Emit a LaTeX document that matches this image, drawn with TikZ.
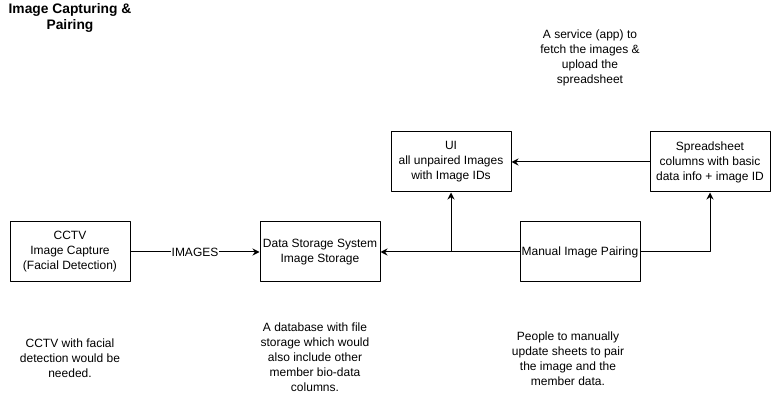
\documentclass[tikz,border=0pt]{standalone}
\usepackage{fontspec}
\setmainfont{Liberation Sans}
\usetikzlibrary{arrows.meta}
\begin{document}
\begin{tikzpicture}[x=1pt,y=-1pt,line join=round,
		font=\fontsize{12}{15}\selectfont,
		>={Stealth[length=7pt,width=7pt]},
		block/.style={draw,line width=1pt,minimum width=120pt,minimum height=60pt,align=center,inner sep=1pt},
		note/.style={align=center,inner sep=0pt},
		link/.style={->,line width=1pt}]
	\useasboundingbox (0,0) rectangle (771,403);
	% Tiêu đề
	\node[note,font=\fontsize{13.8}{16.5}\selectfont\bfseries] (title) at (70,18) {Image Capturing \&\\Pairing};
	% Các khối
	\node[block] (cctv) at (70,252) {CCTV\\Image Capture\\(Facial Detection)};
	\node[block] (storage) at (320,252) {Data Storage System\\Image Storage};
	\node[block] (ui) at (451,162) {UI\\all unpaired Images\\with Image IDs};
	\node[block] (sheet) at (710,162) {Spreadsheet\\columns with basic\\data info + image ID};
	\node[block] (pairing) at (580,252) {Manual Image Pairing};
	% Ghi chú
	\node[note] (cctvnote) at (70,358) {CCTV with facial\\detection would be\\needed.};
	\node[note] (storagenote) at (315,357) {A database with file\\storage which would\\also include other\\member bio-data\\columns.};
	\node[note] (pairingnote) at (568,359) {People to manually\\update sheets to pair\\the image and the\\member data.};
	\node[note] (sheetnote) at (590,58) {A service (app) to\\fetch the images \&\\upload the\\spreadsheet};
	% Mũi tên
	\draw[link] (cctv) -- node[fill=white,inner sep=1pt] {IMAGES} (storage);
	\draw[link] (pairing) -- (storage);
	\coordinate (split) at (ui.south |- pairing.west);
	\draw[link] (split) -- (ui);
	\draw[link] (pairing) -| (sheet);
	\draw[link] (sheet) -- (ui);
\end{tikzpicture}
\end{document}
